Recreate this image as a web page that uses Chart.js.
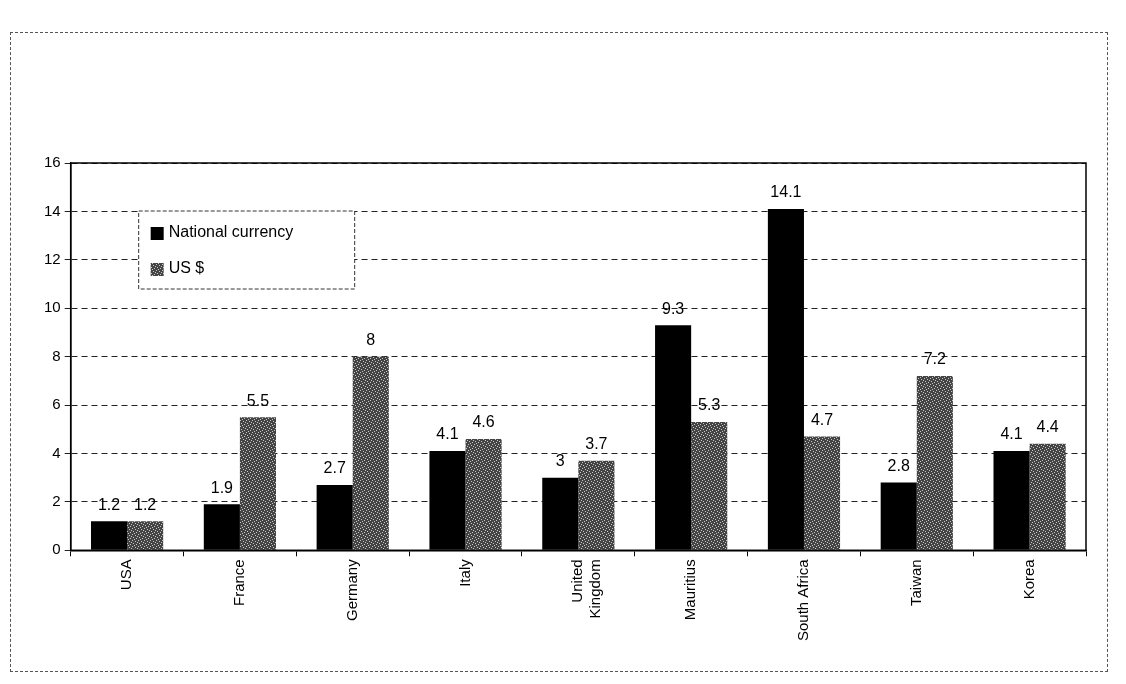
<!DOCTYPE html>
<html>
<head>
<meta charset="utf-8">
<script src="https://cdn.jsdelivr.net/npm/chart.js@4.4.0/dist/chart.umd.min.js"></script>
<style>
  body { margin: 0; background: #fff; }
  #wrap { position: relative; width: 1126px; height: 684px; }
  #frame { position: absolute; left: 10px; top: 32px; width: 1098px; height: 640px; border: 1px dashed #555; box-sizing: border-box; }
</style>
</head>
<body>
<div id="wrap">
  <div id="frame"></div>
  <canvas id="barChart" width="1126" height="684"></canvas>
</div>
<script>
const countries = ['USA', 'France', 'Germany', 'Italy', ['United', 'Kingdom'], 'Mauritius', 'South Africa', 'Taiwan', 'Korea'];
const nationalCurrency = [1.2, 1.9, 2.7, 4.1, 3, 9.3, 14.1, 2.8, 4.1];
const usDollar = [1.2, 5.5, 8, 4.6, 3.7, 5.3, 4.7, 7.2, 4.4];
const yTicks = [0, 2, 4, 6, 8, 10, 12, 14, 16];

// speckled grey fill like the scanned bars
function speckle() {
    const c = document.createElement('canvas');
    c.width = 6; c.height = 6;
    const g = c.getContext('2d');
    g.fillStyle = '#444';
    g.fillRect(0, 0, 6, 6);
    g.fillStyle = '#c8c8c8';
    [[0, 0], [3, 1], [1, 3], [4, 4], [5, 2], [2, 5]].forEach(p => g.fillRect(p[0], p[1], 1, 1));
    return g.createPattern(c, 'repeat');
}

const frameAndLegend = {
    id: 'frameAndLegend',
    afterDraw(chart) {
        const ctx = chart.ctx;
        const a = chart.chartArea;
        ctx.save();
        // plot border
        ctx.strokeStyle = '#000';
        ctx.lineWidth = 1.5;
        ctx.strokeRect(a.left, a.top, a.right - a.left, a.bottom - a.top);
        // value labels
        ctx.fillStyle = '#000';
        ctx.font = '16px "Liberation Sans", Arial, sans-serif';
        ctx.textAlign = 'center';
        ctx.textBaseline = 'bottom';
        chart.data.datasets.forEach((ds, i) => {
            chart.getDatasetMeta(i).data.forEach((bar, j) => {
                ctx.fillText(String(ds.data[j]), bar.x, bar.y - 8);
            });
        });
        // legend box inside plot
        const lx = a.left + 68, ly = a.top + 48, lw = 216, lh = 78;
        ctx.fillStyle = '#fff';
        ctx.fillRect(lx, ly, lw, lh);
        ctx.setLineDash([4, 2]);
        ctx.lineWidth = 1;
        ctx.strokeStyle = '#333';
        ctx.strokeRect(lx, ly, lw, lh);
        ctx.setLineDash([]);
        ctx.textAlign = 'left';
        ctx.textBaseline = 'middle';
        ctx.font = '16px "Liberation Sans", Arial, sans-serif';
        chart.data.datasets.forEach((ds, i) => {
            const yy = ly + 22 + i * 36;
            ctx.fillStyle = ds.backgroundColor;
            ctx.fillRect(lx + 12, yy - 6, 13, 13);
            ctx.fillStyle = '#000';
            ctx.fillText(ds.label, lx + 30, yy);
        });
        ctx.restore();
    }
};

const ctx = document.getElementById('barChart').getContext('2d');
const myChart = new Chart(ctx, {
    type: 'bar',
    data: {
        labels: countries,
        datasets: [{
            label: 'National currency',
            data: nationalCurrency,
            backgroundColor: '#000',
            categoryPercentage: 0.64,
            barPercentage: 1.0
        }, {
            label: 'US $',
            data: usDollar,
            backgroundColor: speckle(),
            categoryPercentage: 0.64,
            barPercentage: 1.0
        }]
    },
    options: {
        responsive: false,
        animation: false,
        layout: { padding: { left: 40, right: 40, top: 163, bottom: 40 } },
        plugins: {
            legend: { display: false },
            tooltip: { enabled: false }
        },
        scales: {
            x: {
                grid: { display: true, drawOnChartArea: false, drawTicks: true, offset: true, tickLength: 6, color: '#000' },
                border: { color: '#000', width: 1.5 },
                ticks: {
                    color: '#000',
                    minRotation: 90,
                    maxRotation: 90,
                    font: { family: 'Liberation Sans', size: 15 }
                }
            },
            y: {
                min: 0,
                max: 16,
                afterBuildTicks: axis => { axis.ticks = yTicks.map(v => ({ value: v })); },
                grid: { color: '#222', lineWidth: 1, tickLength: 6 },
                border: { color: '#000', width: 1.5, dash: [6, 4] },
                ticks: {
                    color: '#000',
                    padding: 4,
                    font: { family: 'Liberation Sans', size: 15 }
                }
            }
        }
    },
    plugins: [frameAndLegend]
});
</script>
</body>
</html>
